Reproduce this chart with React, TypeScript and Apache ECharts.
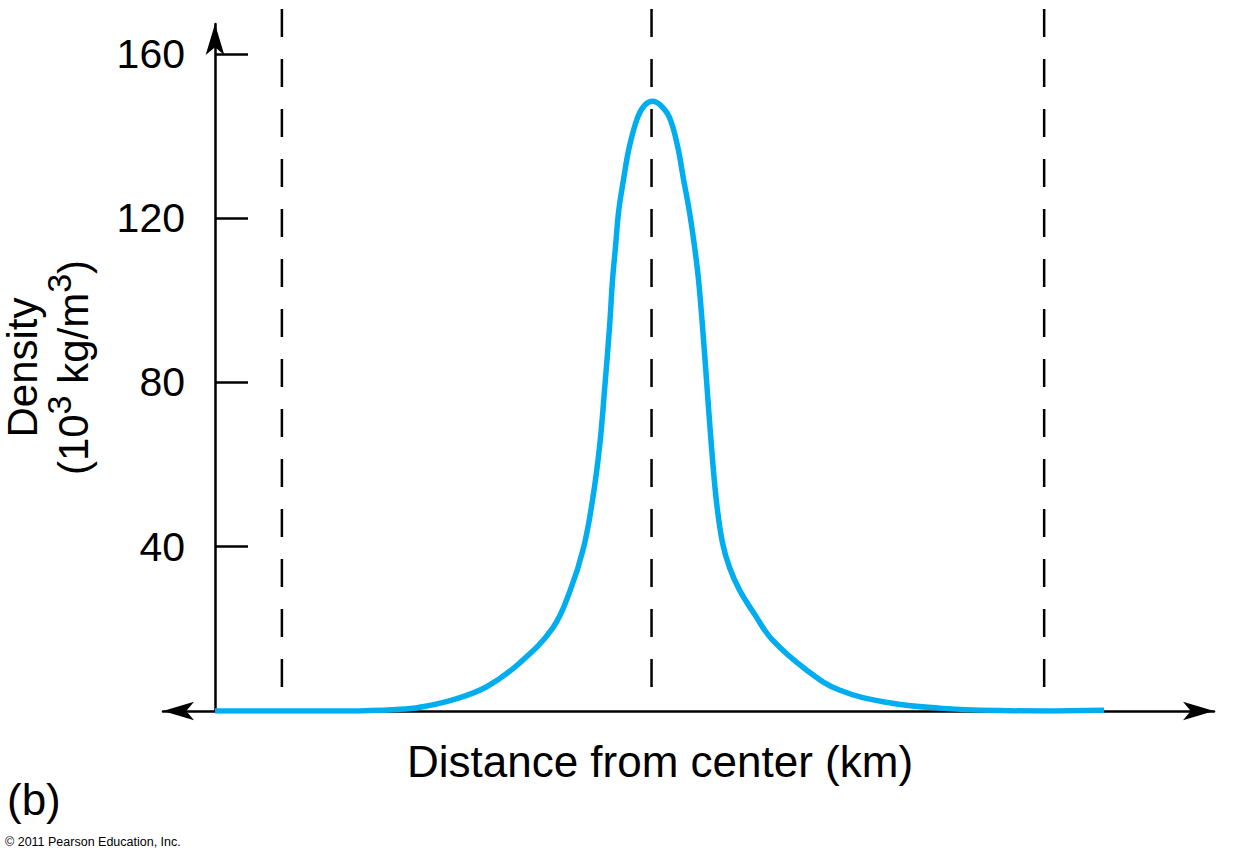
import React, { useEffect, useRef } from "react";
import * as echarts from "echarts";

// Distance along the x axis (arbitrary units, y axis sits at 0)
const distance = [0, 67, 135, 185, 205, 238, 272, 305, 338, 355, 369, 378, 385, 390, 395, 398, 401, 404, 409, 415, 423, 430, 438, 446, 455, 463, 469, 475, 480, 484, 488, 492, 497, 502, 508, 515, 525, 540, 558, 592, 625, 675, 725, 785, 830, 890];
// Density in 10^3 kg/m^3
const density = [0, 0, 0, 0.4, 0.9, 2.7, 5.9, 11.7, 20.2, 29, 39.8, 51.5, 64.4, 78.3, 93.7, 105.1, 113.2, 121.5, 129.5, 137.6, 144.5, 147.5, 148.5, 147.5, 144.5, 137.6, 129.5, 121.5, 113.2, 105.1, 93.7, 80.7, 64.4, 51, 41, 35, 29.5, 23.6, 17.3, 10, 5.1, 2, 0.7, 0.1, 0, 0.2];
// Dashed vertical reference lines
const dashedPositions = [67, 437, 830];
const dashedRange = [5.85, 171.5];
// Y tick values
const yTicks = [40, 80, 120, 160];

const xMin = -52;
const xMax = 1000;
const yMax = 167.3;

const FONT = "'Liberation Sans', Arial, Helvetica, sans-serif";

export default function App() {
  const ref = useRef<HTMLDivElement>(null);
  useEffect(() => {
    if (!ref.current) return;
    const chart = echarts.init(ref.current, null, { renderer: "svg" });
    const dashedSeries = dashedPositions.map((x) => ({
      type: "line",
      data: [
        [x, dashedRange[0]],
        [x, dashedRange[1]],
      ],
      symbol: "none",
      clip: false,
      silent: true,
      z: 1,
      lineStyle: { color: "#000", width: 2.5, type: [28, 22] },
    }));
    chart.setOption({
      animation: false,
      backgroundColor: "#fff",
      grid: {
        left: 163,
        right: 24,
        top: 24,
        bottom: 148,
        containLabel: false,
        outerBoundsMode: "none",
      },
      xAxis: {
        type: "value",
        min: xMin,
        max: xMax,
        name: "Distance from center (km)",
        nameLocation: "middle",
        nameGap: 28,
        nameMoveOverlap: false,
        nameTextStyle: {
          fontFamily: FONT,
          fontSize: 44,
          color: "#000",
          padding: [0, 57, 0, 0],
        },
        axisLine: {
          onZero: true,
          symbol: ["arrow", "arrow"],
          symbolSize: [14, 31],
          lineStyle: { color: "#000", width: 2.5 },
        },
        axisTick: { show: false },
        axisLabel: { show: false },
        splitLine: { show: false },
      },
      yAxis: {
        type: "value",
        min: 0,
        max: yMax,
        offset: -52,
        name: "{a|Density}\n{b|(10}{s|3}{b| kg/m}{s|3}{b|)}",
        nameLocation: "middle",
        nameRotate: 90,
        nameGap: 111,
        nameMoveOverlap: false,
        nameTextStyle: {
          fontFamily: FONT,
          color: "#000",
          rich: {
            a: { fontFamily: FONT, fontSize: 42, lineHeight: 40, color: "#000" },
            b: { fontFamily: FONT, fontSize: 42, lineHeight: 62, verticalAlign: "middle", color: "#000" },
            s: { fontFamily: FONT, fontSize: 34, lineHeight: 30, verticalAlign: "top", color: "#000" },
          },
        },
        axisLine: {
          onZero: false,
          symbol: ["none", "arrow"],
          symbolSize: [14, 31],
          lineStyle: { color: "#000", width: 2.5 },
        },
        axisTick: {
          show: true,
          inside: true,
          length: 33,
          customValues: yTicks,
          lineStyle: { color: "#000", width: 2.5 },
        },
        axisLabel: {
          show: true,
          customValues: yTicks,
          margin: 30,
          fontFamily: FONT,
          fontSize: 41,
          color: "#000",
        },
        splitLine: { show: false },
      },
      graphic: [
        {
          type: "text",
          left: 7,
          top: 777,
          style: { text: "(b)", fontFamily: FONT, fontSize: 44, fill: "#000" },
        },
        {
          type: "text",
          left: 5,
          top: 835,
          style: {
            text: "© 2011 Pearson Education, Inc.",
            fontFamily: FONT,
            fontSize: 12.5,
            fill: "#000",
          },
        },
      ],
      series: [
        ...dashedSeries,
        {
          type: "line",
          data: distance.map((d, i) => [d, density[i]]),
          symbol: "none",
          smooth: 0.4,
          z: 3,
          lineStyle: { color: "#00AEEF", width: 5.5 },
        },
      ],
    });
    return () => chart.dispose();
  }, []);
  return (
    <div
      ref={ref}
      style={{ position: "absolute", left: 0, top: 0, width: 1238, height: 859 }}
    />
  );
}
